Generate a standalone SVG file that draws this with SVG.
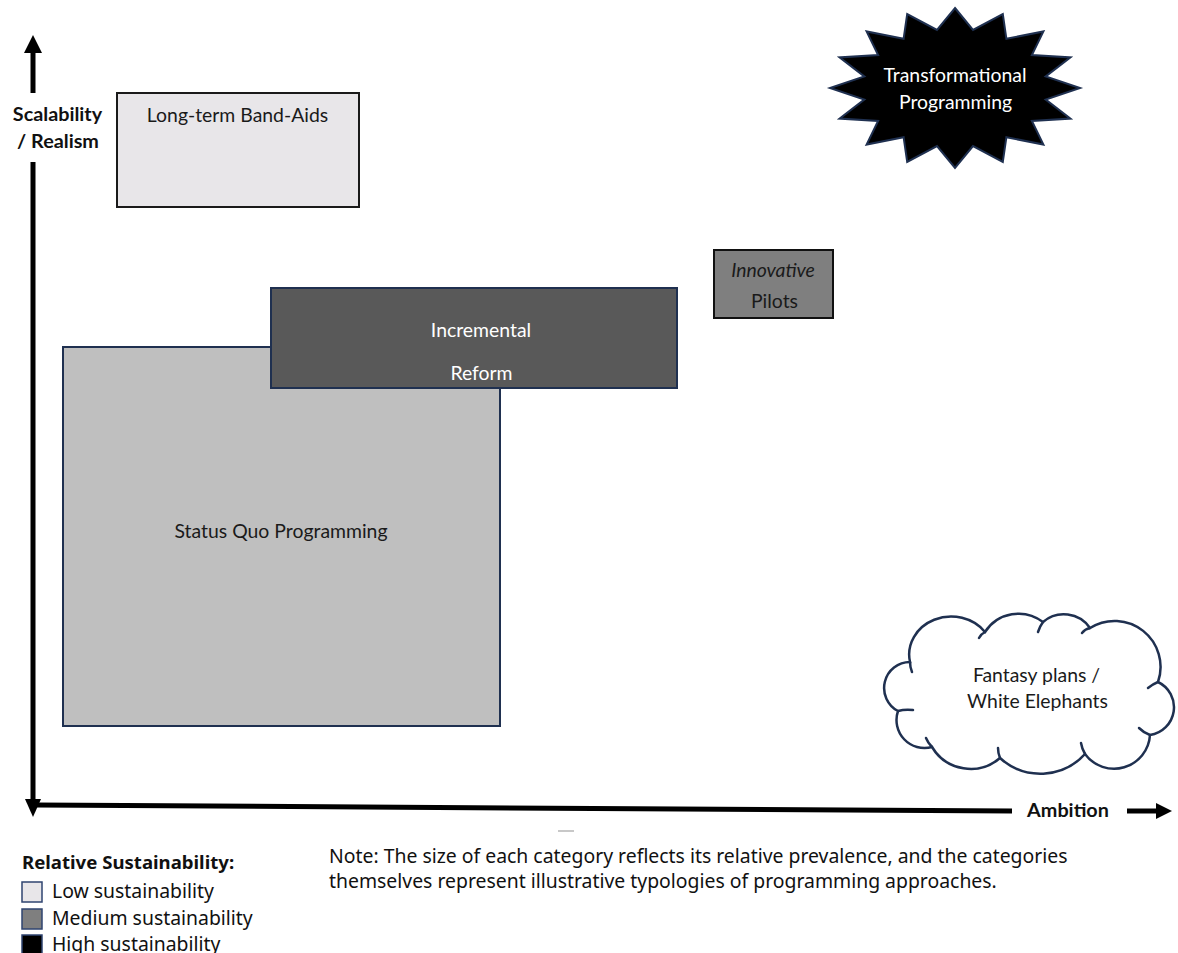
<svg xmlns="http://www.w3.org/2000/svg" width="1178" height="953" viewBox="0 0 1178 953">
<style>
.lbl{font-family:Lato,"Liberation Sans",sans-serif;font-size:19.4px;fill:#1a1a1a;text-anchor:middle}
.wht{fill:#ffffff}
.bold{font-family:Lato,"Liberation Sans",sans-serif;font-weight:bold;font-size:19.8px;fill:#111;text-anchor:middle}
.leg{font-family:"Noto Sans","Liberation Sans",sans-serif;font-size:19.4px;fill:#111}
.legh{font-family:"Noto Sans","Liberation Sans",sans-serif;font-size:18.6px;font-weight:bold;fill:#111}
.note{font-family:"Noto Sans","Liberation Sans",sans-serif;font-size:19.4px;fill:#111}
.ax{stroke:#000;stroke-width:5;fill:none}
.tail{fill:none;stroke:#1f3050;stroke-width:2.5;stroke-linecap:round}
</style>
<rect width="1178" height="953" fill="#ffffff"/>
<g id="axes">
<polygon points="33,35 24,53 42,53" fill="#000"/>
<line class="ax" x1="33" y1="52" x2="33" y2="93"/>
<line class="ax" x1="33" y1="162" x2="33" y2="806"/>
<polygon points="25,799 41,799 33,817" fill="#000"/>
<line class="ax" x1="36" y1="805" x2="1012" y2="811"/>
<line class="ax" x1="1127" y1="811" x2="1158" y2="811"/>
<polygon points="1172,811 1156,803 1156,819" fill="#000"/>
<text class="bold" x="57.5" y="121">Scalability</text>
<text class="bold" x="58" y="148">/ Realism</text>
<text class="bold" x="1068" y="817">Ambition</text>
<line x1="558" y1="831" x2="574" y2="831" stroke="#c8c8c8" stroke-width="2"/>
</g>
<g id="status-quo">
<rect x="63" y="347" width="437" height="379" fill="#bfbfbf" stroke="#1f3050" stroke-width="2"/>
<text class="lbl" x="281" y="538">Status Quo Programming</text>
</g>
<g id="long-term-band-aids">
<rect x="117" y="93" width="242" height="114" fill="#e8e6e9" stroke="#1a1a1a" stroke-width="2"/>
<text class="lbl" x="237.5" y="122">Long-term Band-Aids</text>
</g>
<g id="incremental-reform">
<rect x="271" y="288" width="406" height="100" fill="#595959" stroke="#1f3050" stroke-width="2"/>
<text class="lbl wht" x="481" y="337">Incremental</text>
<text class="lbl wht" x="481.5" y="380">Reform</text>
</g>
<g id="innovative-pilots">
<rect x="714" y="250" width="119" height="68" fill="#7f7f7f" stroke="#111" stroke-width="2"/>
<text class="lbl" x="773" y="277" font-style="italic">Innovative</text>
<text class="lbl" x="774.5" y="308">Pilots</text>
</g>
<g id="transformational-programming">
<polygon points="955,8 973,29.9 1002.8,14.1 1006.4,38.8 1043.4,31.4 1031.9,55.1 1070.5,57.4 1045.7,76.5 1080,88 1045.7,99.5 1070.5,118.6 1031.9,120.9 1043.4,144.6 1006.4,137.2 1002.8,161.9 973,146.1 955,168 937,146.1 907.2,161.9 903.6,137.2 866.6,144.6 878.1,120.9 839.5,118.6 864.3,99.5 830,88 864.3,76.5 839.5,57.4 878.1,55.1 866.6,31.4 903.6,38.8 907.2,14.1 937,29.9" fill="#000" stroke="#1f3050" stroke-width="2" stroke-linejoin="miter"/>
<text class="lbl wht" x="955" y="82">Transformational</text>
<text class="lbl wht" x="955.5" y="109">Programming</text>
</g>
<g id="fantasy-plans">
<path d="M 898,711 A 26 26 0 0 1 910,662 A 42 38 0 0 1 985,632 A 40 40 0 0 1 1043,622 A 32 32 0 0 1 1090,628 A 46 46 0 0 1 1158,682 A 28 28 0 0 1 1150,735 A 36 36 0 0 1 1085,754 A 60 60 0 0 1 1000,758 A 45 45 0 0 1 932,747 A 28 28 0 0 1 898,711 Z" fill="#fff" stroke="#1f3050" stroke-width="2.5"/>
<path class="tail" d="M 898,711 Q 905,709 913,710"/>
<path class="tail" d="M 910,662 Q 910,667 912,672"/>
<path class="tail" d="M 985,632 Q 981,634 979,638"/>
<path class="tail" d="M 1043,622 Q 1040,626 1038,632"/>
<path class="tail" d="M 1090,628 Q 1085,629 1082,633"/>
<path class="tail" d="M 1158,682 Q 1153,684 1148,688"/>
<path class="tail" d="M 1150,735 Q 1144,733 1139,728"/>
<path class="tail" d="M 1085,754 Q 1082,749 1081,743"/>
<path class="tail" d="M 1000,758 Q 998,753 998,748"/>
<path class="tail" d="M 932,747 Q 928,743 926,738"/>
<text class="lbl" x="1036.5" y="682">Fantasy plans /</text>
<text class="lbl" x="1037.5" y="708">White Elephants</text>
</g>
<g id="legend">
<text class="legh" x="22" y="869">Relative Sustainability:</text>
<rect x="22" y="882" width="20" height="20" fill="#e8e6e9" stroke="#2f4470" stroke-width="1.5"/>
<text class="leg" x="52" y="898">Low sustainability</text>
<rect x="22" y="909" width="20" height="20" fill="#7f7f7f" stroke="#2f4470" stroke-width="1.5"/>
<text class="leg" x="52" y="925">Medium sustainability</text>
<rect x="22" y="935" width="20" height="20" fill="#000" stroke="#2f4470" stroke-width="1.5"/>
<text class="leg" x="52" y="951">High sustainability</text>
</g>
<g id="note">
<text class="note" x="329" y="863">Note: The size of each category reflects its relative prevalence, and the categories</text>
<text class="note" x="329" y="888">themselves represent illustrative typologies of programming approaches.</text>
</g>
</svg>
